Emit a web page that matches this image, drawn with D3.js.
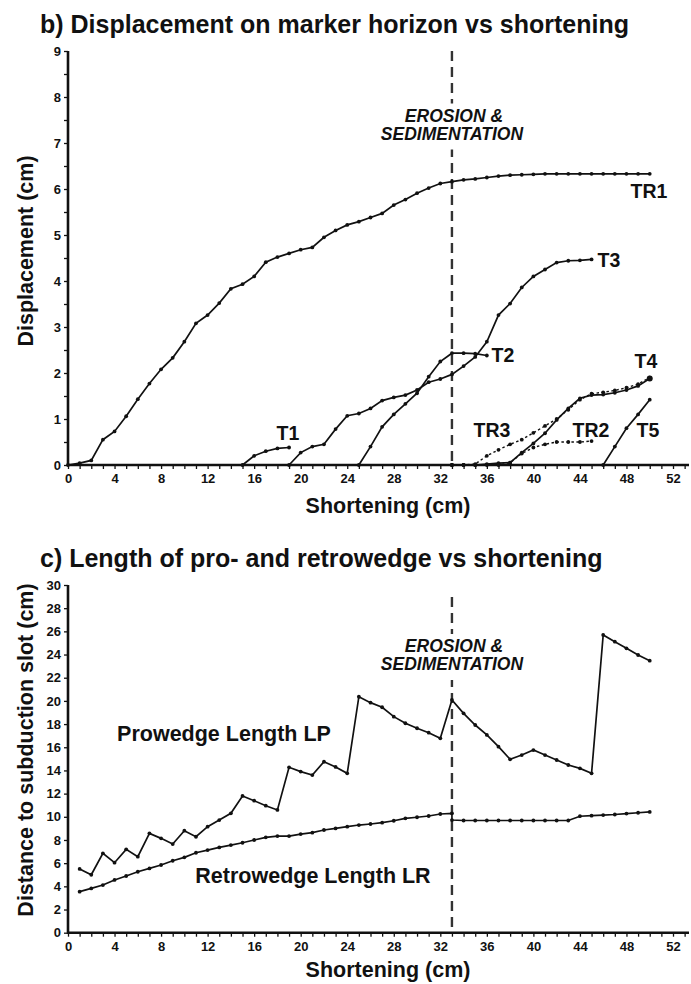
<!DOCTYPE html>
<html>
<head>
<meta charset="utf-8">
<script src="https://cdn.jsdelivr.net/npm/d3@7"></script>
<style>
  html, body { margin: 0; padding: 0; background: #fff; }
  svg { display: block; }
  text { font-family: "Liberation Sans", Arial, Helvetica, sans-serif; fill: #111; }
</style>
</head>
<body>
<script>
// ---- Panel b: displacement on marker horizon (cm) per thrust, vs shortening (cm)
const tr1Start = 0;
const tr1 = [0, 0.04, 0.1, 0.55, 0.73, 1.06, 1.43, 1.77, 2.08, 2.33, 2.68, 3.08, 3.26, 3.52, 3.83, 3.93,
  4.1, 4.41, 4.52, 4.6, 4.68, 4.73, 4.95, 5.1, 5.22, 5.29, 5.38, 5.47, 5.65, 5.77, 5.91, 6.02, 6.12,
  6.16, 6.2, 6.22, 6.25, 6.28, 6.3, 6.31, 6.32, 6.33, 6.33, 6.33, 6.33, 6.33, 6.33, 6.33, 6.33, 6.33, 6.33];
const t1Start = 15;
const t1 = [0, 0.2, 0.3, 0.36, 0.38];
const t3Start = 19;
const t3 = [0, 0.27, 0.4, 0.45, 0.78, 1.07, 1.12, 1.23, 1.4, 1.47, 1.52, 1.63, 1.8, 1.87, 1.97, 2.15, 2.35,
  2.68, 3.26, 3.51, 3.86, 4.1, 4.25, 4.4, 4.44, 4.45, 4.47];
const t2Start = 25;
const t2 = [0, 0.4, 0.83, 1.1, 1.33, 1.56, 1.92, 2.25, 2.43, 2.43, 2.42, 2.38];
const t4Start = 33;
const t4 = [0, 0, 0, 0.02, 0.04, 0.05, 0.27, 0.47, 0.69, 0.98, 1.23, 1.45, 1.52, 1.53, 1.57, 1.63, 1.72, 1.88];
const tr3Start = 33;
const tr3 = [0, 0, 0.02, 0.2, 0.33, 0.45, 0.55, 0.7, 0.85, 1.0, 1.2, 1.42, 1.55, 1.58, 1.62, 1.68, 1.76, 1.9];
const tr2Start = 33;
const tr2 = [0, 0, 0, 0, 0, 0.05, 0.25, 0.38, 0.45, 0.5, 0.5, 0.5, 0.52];
const t5Start = 46;
const t5 = [0, 0.4, 0.8, 1.1, 1.42];

// ---- Panel c: distance to subduction slot (cm) vs shortening (cm)
const lpX = [1, 2, 3, 4, 5, 6, 7, 8, 9, 10, 11, 12, 13, 14, 15, 16, 17, 18, 19, 20, 21, 22, 23, 24, 25,
  26, 27, 28, 29, 30, 31, 32, 33, 34, 35, 36, 37, 38, 39, 40, 41, 42, 43, 44, 45, 46, 47, 48, 49, 50];
const lpY = [5.5, 5.0, 6.85, 6.04, 7.19, 6.56, 8.57, 8.14, 7.65, 8.8, 8.28, 9.15, 9.72, 10.3, 11.8, 11.39,
  10.96, 10.59, 14.27, 13.9, 13.6, 14.75, 14.3, 13.75, 20.36, 19.85, 19.45, 18.64, 18.07, 17.64, 17.26,
  16.77, 20.08, 18.93, 17.92, 17.06, 16.05, 14.96, 15.33, 15.76, 15.33, 14.9, 14.47, 14.18, 13.75,
  25.69, 25.11, 24.54, 23.96, 23.47];
const lrX = [1, 2, 3, 4, 5, 6, 7, 8, 9, 10, 11, 12, 13, 14, 15, 16, 17, 18, 19, 20, 21, 22, 23, 24, 25,
  26, 27, 28, 29, 30, 31, 32, 33, 33, 34, 35, 36, 37, 38, 39, 40, 41, 42, 43, 44, 45, 46, 47, 48, 49, 50];
const lrY = [3.54, 3.82, 4.11, 4.55, 4.89, 5.26, 5.55, 5.84, 6.21, 6.5, 6.9, 7.13, 7.36, 7.56, 7.76, 8.0,
  8.23, 8.34, 8.34, 8.51, 8.63, 8.86, 9.0, 9.15, 9.29, 9.38, 9.49, 9.66, 9.87, 9.96, 10.07, 10.24, 10.3,
  9.72, 9.68, 9.68, 9.68, 9.68, 9.68, 9.68, 9.68, 9.68, 9.68, 9.68, 10.05, 10.1, 10.15, 10.2, 10.28, 10.35, 10.42];

// ---- Axis ticks and labels
const xTicks = d3.range(0, 54);
const xTickLabels = [0, 4, 8, 12, 16, 20, 24, 28, 32, 36, 40, 44, 48, 52];
const yTicksB = d3.range(0, 9.5, 0.5);
const yTickLabelsB = [0, 1, 2, 3, 4, 5, 6, 7, 8, 9];
const yTicksC = [0, 2, 4, 6, 8, 10, 12, 14, 16, 18, 20, 22, 24, 26, 28, 30];
const erosionAt = 33;

const W = 691, H = 984;
const svg = d3.select("body").append("svg").attr("width", W).attr("height", H);

const x = d3.scaleLinear().domain([0, 52]).range([68, 673]);
const yB = d3.scaleLinear().domain([0, 9]).range([465, 51]);
const yC = d3.scaleLinear().domain([0, 30]).range([932.7, 585]);

function seriesPoints(start, vals) {
  return vals.map((v, i) => [start + i, v]);
}
function pairs(xs, ys) { return xs.map((d, i) => [d, ys[i]]); }

function drawAxes(y, yTicks, yLabels, yTitle, yTitleY, xTitleY, titleText, titleY) {
  const g = svg.append("g");
  // x axis: a tick every cm, numbered every 4 cm
  const xAxis = d3.axisBottom(x).tickValues(xTicks).tickSize(4).tickPadding(5)
    .tickFormat(d => xTickLabels.includes(d) ? d : "");
  const gx = g.append("g").attr("transform", `translate(0,${y(0)})`).call(xAxis);
  gx.select(".domain").remove();
  gx.selectAll(".tick line").attr("stroke", "#111").attr("stroke-width", 1.3);
  gx.selectAll(".tick text").attr("font-size", 13).attr("font-weight", "bold").attr("fill", "#222");
  g.append("line").attr("x1", x(0) - 1).attr("x2", 689).attr("y1", y(0)).attr("y2", y(0))
    .attr("stroke", "#111").attr("stroke-width", 2.6);
  // y axis
  const yAxis = d3.axisLeft(y).tickValues(yTicks).tickSize(4).tickPadding(3)
    .tickFormat(d => yLabels.includes(d) ? d : "");
  const gy = g.append("g").attr("transform", `translate(${x(0)},0)`).call(yAxis);
  gy.select(".domain").remove();
  gy.selectAll(".tick line").attr("stroke", "#111").attr("stroke-width", 1.3);
  gy.selectAll(".tick text").attr("font-size", 13).attr("font-weight", "bold").attr("fill", "#222");
  g.append("line").attr("x1", x(0)).attr("x2", x(0)).attr("y1", y.range()[1]).attr("y2", y(0) + 1)
    .attr("stroke", "#111").attr("stroke-width", 2.6);
  // axis and panel titles
  g.append("text").attr("x", 388).attr("y", xTitleY).attr("text-anchor", "middle")
    .attr("font-size", 21.5).attr("font-weight", "bold").text("Shortening (cm)");
  g.append("text").attr("transform", `translate(33,${yTitleY}) rotate(-90)`).attr("text-anchor", "middle")
    .attr("font-size", 21.5).attr("font-weight", "bold").text(yTitle);
  g.append("text").attr("x", 40).attr("y", titleY)
    .attr("font-size", 25).attr("font-weight", "bold").text(titleText);
}

function drawErosion(y, yTop, textY) {
  svg.append("line").attr("x1", x(erosionAt)).attr("x2", x(erosionAt))
    .attr("y1", yTop).attr("y2", y(0))
    .attr("stroke", "#333").attr("stroke-width", 2.4).attr("stroke-dasharray", "10,6");
  svg.append("rect").attr("x", x(erosionAt) - 82).attr("y", textY - 18).attr("width", 164).attr("height", 46)
    .attr("fill", "#fff");
  const lines = ["EROSION &", "SEDIMENTATION"];
  lines.forEach((s, i) => {
    svg.append("text").attr("text-anchor", "middle").attr("font-size", 17.5)
      .attr("font-weight", "bold").attr("font-style", "italic")
      .attr("x", x(erosionAt) + (i === 0 ? 2 : 0)).attr("y", textY + i * 18.3).text(s);
  });
}

function drawSeries(y, pts, dashed) {
  const line = d3.line().x(d => x(d[0])).y(d => y(d[1]));
  svg.append("path").datum(pts).attr("d", line).attr("fill", "none")
    .attr("stroke", "#111").attr("stroke-width", dashed ? 1.4 : 1.7)
    .attr("stroke-dasharray", dashed ? "2.5,2.5" : null);
  svg.append("g").selectAll("circle").data(pts).join("circle")
    .attr("cx", d => x(d[0])).attr("cy", d => y(d[1])).attr("r", 1.9).attr("fill", "#111");
}

function label(txt, px, py, size) {
  svg.append("text").attr("x", px).attr("y", py).attr("text-anchor", "middle")
    .attr("font-size", size || 19.5).attr("font-weight", "bold").text(txt);
}

// ===== Panel b =====
drawAxes(yB, yTicksB, yTickLabelsB, "Displacement (cm)", 251, 513, "b) Displacement on marker horizon vs shortening", 33);
drawErosion(yB, yB(9), 121.5);
drawSeries(yB, seriesPoints(tr1Start, tr1));
drawSeries(yB, seriesPoints(t1Start, t1));
drawSeries(yB, seriesPoints(t3Start, t3));
drawSeries(yB, seriesPoints(t2Start, t2));
drawSeries(yB, seriesPoints(t4Start, t4));
drawSeries(yB, seriesPoints(tr3Start, tr3), true);
drawSeries(yB, seriesPoints(tr2Start, tr2), true);
drawSeries(yB, seriesPoints(t5Start, t5));
svg.append("circle").attr("cx", x(50)).attr("cy", yB(t4[t4.length - 1])).attr("r", 3).attr("fill", "#111");
label("TR1", 649, 198);
label("T3", 609, 267);
label("T2", 503, 362);
label("T1", 288, 440);
label("T4", 646, 368);
label("TR3", 492, 437);
label("TR2", 591, 437);
label("T5", 648, 437);

// ===== Panel c =====
drawAxes(yC, yTicksC, yTicksC, "Distance to subduction slot (cm)", 750, 977, "c) Length of pro- and retrowedge vs shortening", 567);
drawErosion(yC, 597, 652);
drawSeries(yC, pairs(lpX, lpY));
drawSeries(yC, pairs(lrX, lrY));
label("Prowedge Length LP", 224, 741, 21.5);
label("Retrowedge Length LR", 313, 883, 21.5);
</script>
</body>
</html>
